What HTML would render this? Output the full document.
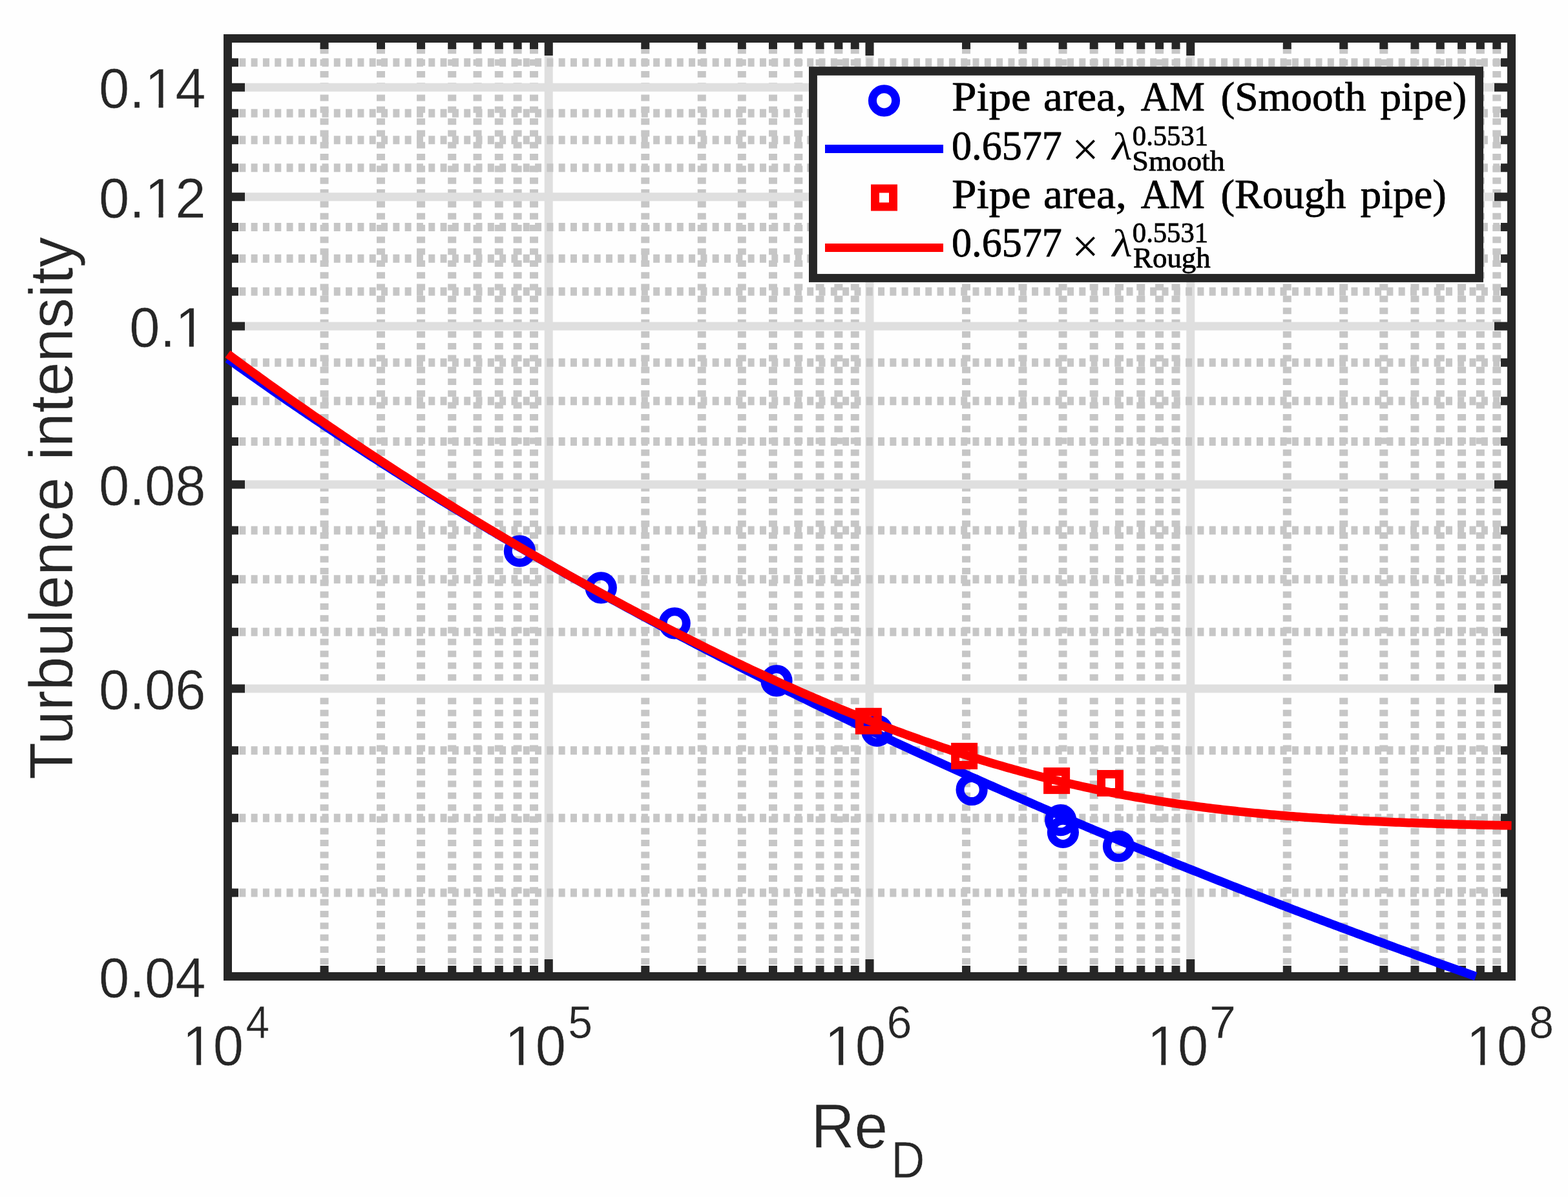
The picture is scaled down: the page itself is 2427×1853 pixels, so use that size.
<!DOCTYPE html>
<html lang="en"><head><meta charset="utf-8"><title>Turbulence intensity vs Re_D</title>
<style>html,body{margin:0;padding:0;background:#fefefe;}body{width:2427px;height:1853px;overflow:hidden;}svg{display:block;}</style>
</head><body>
<svg width="2427" height="1853" viewBox="0 0 2427 1853">
<rect width="2427" height="1853" fill="#fefefe"/>
<g stroke="#c6c6c6" stroke-width="13.0" stroke-dasharray="10 8.31" fill="none">
<path d="M502.04 1511.50V59.50"/>
<path d="M589.51 1511.50V59.50"/>
<path d="M651.57 1511.50V59.50"/>
<path d="M699.71 1511.50V59.50"/>
<path d="M739.05 1511.50V59.50"/>
<path d="M772.30 1511.50V59.50"/>
<path d="M801.11 1511.50V59.50"/>
<path d="M826.52 1511.50V59.50"/>
<path d="M998.79 1511.50V59.50"/>
<path d="M1086.26 1511.50V59.50"/>
<path d="M1148.32 1511.50V59.50"/>
<path d="M1196.46 1511.50V59.50"/>
<path d="M1235.80 1511.50V59.50"/>
<path d="M1269.05 1511.50V59.50"/>
<path d="M1297.86 1511.50V59.50"/>
<path d="M1323.27 1511.50V59.50"/>
<path d="M1495.54 1511.50V59.50"/>
<path d="M1583.01 1511.50V59.50"/>
<path d="M1645.07 1511.50V59.50"/>
<path d="M1693.21 1511.50V59.50"/>
<path d="M1732.55 1511.50V59.50"/>
<path d="M1765.80 1511.50V59.50"/>
<path d="M1794.61 1511.50V59.50"/>
<path d="M1820.02 1511.50V59.50"/>
<path d="M1992.29 1511.50V59.50"/>
<path d="M2079.76 1511.50V59.50"/>
<path d="M2141.82 1511.50V59.50"/>
<path d="M2189.96 1511.50V59.50"/>
<path d="M2229.30 1511.50V59.50"/>
<path d="M2262.55 1511.50V59.50"/>
<path d="M2291.36 1511.50V59.50"/>
<path d="M2316.77 1511.50V59.50"/>
</g>
<g stroke="#dfdfdf" stroke-width="13.0" fill="none">
<path d="M849.25 1511.50V59.50"/>
<path d="M1346.00 1511.50V59.50"/>
<path d="M1842.75 1511.50V59.50"/>
</g>
<g stroke="#c6c6c6" stroke-width="13.0" stroke-dasharray="10 8.31" fill="none">
<path d="M352.00 1382.11H2339.50"/>
<path d="M352.00 1266.37H2339.50"/>
<path d="M352.00 1161.67H2339.50"/>
<path d="M352.00 978.15H2339.50"/>
<path d="M352.00 896.74H2339.50"/>
<path d="M352.00 820.95H2339.50"/>
<path d="M352.00 683.45H2339.50"/>
<path d="M352.00 620.66H2339.50"/>
<path d="M352.00 561.27H2339.50"/>
<path d="M352.00 451.32H2339.50"/>
<path d="M352.00 400.22H2339.50"/>
<path d="M352.00 351.39H2339.50"/>
<path d="M352.00 259.79H2339.50"/>
<path d="M352.00 216.70H2339.50"/>
<path d="M352.00 175.24H2339.50"/>
<path d="M352.00 96.74H2339.50"/>
</g>
<g stroke="#dfdfdf" stroke-width="13.0" fill="none">
<path d="M352.50 1066.08H2339.50"/>
<path d="M352.50 750.05H2339.50"/>
<path d="M352.50 504.92H2339.50"/>
<path d="M352.50 304.63H2339.50"/>
<path d="M352.50 135.29H2339.50"/>
</g>
<g stroke="#262626" stroke-width="13.0" fill="none">
<path d="M502.04 66.00v10M502.04 1505.00v-10M589.51 66.00v10M589.51 1505.00v-10M651.57 66.00v10M651.57 1505.00v-10M699.71 66.00v10M699.71 1505.00v-10M739.05 66.00v10M739.05 1505.00v-10M772.30 66.00v10M772.30 1505.00v-10M801.11 66.00v10M801.11 1505.00v-10M826.52 66.00v10M826.52 1505.00v-10M998.79 66.00v10M998.79 1505.00v-10M1086.26 66.00v10M1086.26 1505.00v-10M1148.32 66.00v10M1148.32 1505.00v-10M1196.46 66.00v10M1196.46 1505.00v-10M1235.80 66.00v10M1235.80 1505.00v-10M1269.05 66.00v10M1269.05 1505.00v-10M1297.86 66.00v10M1297.86 1505.00v-10M1323.27 66.00v10M1323.27 1505.00v-10M1495.54 66.00v10M1495.54 1505.00v-10M1583.01 66.00v10M1583.01 1505.00v-10M1645.07 66.00v10M1645.07 1505.00v-10M1693.21 66.00v10M1693.21 1505.00v-10M1732.55 66.00v10M1732.55 1505.00v-10M1765.80 66.00v10M1765.80 1505.00v-10M1794.61 66.00v10M1794.61 1505.00v-10M1820.02 66.00v10M1820.02 1505.00v-10M1992.29 66.00v10M1992.29 1505.00v-10M2079.76 66.00v10M2079.76 1505.00v-10M2141.82 66.00v10M2141.82 1505.00v-10M2189.96 66.00v10M2189.96 1505.00v-10M2229.30 66.00v10M2229.30 1505.00v-10M2262.55 66.00v10M2262.55 1505.00v-10M2291.36 66.00v10M2291.36 1505.00v-10M2316.77 66.00v10M2316.77 1505.00v-10M849.25 66.00v20M849.25 1505.00v-20M1346.00 66.00v20M1346.00 1505.00v-20M1842.75 66.00v20M1842.75 1505.00v-20M359.00 1382.11h10M2333.00 1382.11h-10M359.00 1266.37h10M2333.00 1266.37h-10M359.00 1161.67h10M2333.00 1161.67h-10M359.00 978.15h10M2333.00 978.15h-10M359.00 896.74h10M2333.00 896.74h-10M359.00 820.95h10M2333.00 820.95h-10M359.00 683.45h10M2333.00 683.45h-10M359.00 620.66h10M2333.00 620.66h-10M359.00 561.27h10M2333.00 561.27h-10M359.00 451.32h10M2333.00 451.32h-10M359.00 400.22h10M2333.00 400.22h-10M359.00 351.39h10M2333.00 351.39h-10M359.00 259.79h10M2333.00 259.79h-10M359.00 216.70h10M2333.00 216.70h-10M359.00 175.24h10M2333.00 175.24h-10M359.00 96.74h10M2333.00 96.74h-10M359.00 1066.08h20M2333.00 1066.08h-20M359.00 750.05h20M2333.00 750.05h-20M359.00 504.92h20M2333.00 504.92h-20M359.00 304.63h20M2333.00 304.63h-20M359.00 135.29h20M2333.00 135.29h-20"/>
<rect x="352.5" y="59.5" width="1987.0" height="1452.0"/>
</g>
<g fill="none" stroke-width="13.0">
<circle cx="804.4" cy="853.2" r="18.1" stroke="#0000ff"/>
<circle cx="930.3" cy="909.8" r="18.1" stroke="#0000ff"/>
<circle cx="1044.2" cy="964.8" r="18.1" stroke="#0000ff"/>
<circle cx="1202" cy="1053.9" r="18.1" stroke="#0000ff"/>
<circle cx="1357.6" cy="1131.3" r="18.1" stroke="#0000ff"/>
<circle cx="1504.1" cy="1222.5" r="18.1" stroke="#0000ff"/>
<circle cx="1641.7" cy="1269.7" r="18.1" stroke="#0000ff"/>
<circle cx="1645.4" cy="1288.4" r="18.1" stroke="#0000ff"/>
<circle cx="1731.5" cy="1310" r="18.1" stroke="#0000ff"/>
<path d="M352.50 555.24L357.47 558.81L362.43 562.37L367.40 565.92L372.37 569.47L377.34 573.00L382.30 576.53L387.27 580.05L392.24 583.55L397.21 587.05L402.17 590.54L407.14 594.03L412.11 597.50L417.08 600.96L422.04 604.42L427.01 607.87L431.98 611.30L436.95 614.73L441.91 618.15L446.88 621.57L451.85 624.97L456.82 628.37L461.78 631.76L466.75 635.14L471.72 638.51L476.69 641.87L481.65 645.23L486.62 648.57L491.59 651.91L496.56 655.24L501.52 658.57L506.49 661.88L511.46 665.19L516.43 668.49L521.39 671.78L526.36 675.06L531.33 678.34L536.30 681.60L541.26 684.86L546.23 688.11L551.20 691.36L556.17 694.60L561.13 697.83L566.10 701.05L571.07 704.26L576.04 707.47L581.00 710.67L585.97 713.86L590.94 717.04L595.91 720.22L600.88 723.39L605.84 726.55L610.81 729.71L615.78 732.85L620.75 735.99L625.71 739.13L630.68 742.25L635.65 745.37L640.62 748.48L645.58 751.59L650.55 754.69L655.52 757.78L660.49 760.86L665.45 763.94L670.42 767.01L675.39 770.07L680.36 773.13L685.32 776.18L690.29 779.22L695.26 782.25L700.23 785.28L705.19 788.31L710.16 791.32L715.13 794.33L720.10 797.33L725.06 800.33L730.03 803.32L735.00 806.30L739.97 809.28L744.93 812.25L749.90 815.21L754.87 818.17L759.84 821.12L764.80 824.06L769.77 827.00L774.74 829.93L779.71 832.85L784.67 835.77L789.64 838.68L794.61 841.59L799.58 844.49L804.54 847.38L809.51 850.27L814.48 853.15L819.45 856.03L824.41 858.90L829.38 861.76L834.35 864.61L839.32 867.47L844.28 870.31L849.25 873.15L854.22 875.98L859.18 878.81L864.15 881.63L869.12 884.45L874.09 887.26L879.06 890.06L884.02 892.86L888.99 895.65L893.96 898.44L898.92 901.22L903.89 903.99L908.86 906.76L913.83 909.52L918.80 912.28L923.76 915.03L928.73 917.78L933.70 920.52L938.66 923.26L943.63 925.99L948.60 928.71L953.57 931.43L958.53 934.14L963.50 936.85L968.47 939.55L973.44 942.25L978.40 944.94L983.37 947.63L988.34 950.31L993.31 952.98L998.27 955.65L1003.24 958.32L1008.21 960.98L1013.18 963.63L1018.14 966.28L1023.11 968.93L1028.08 971.56L1033.05 974.20L1038.01 976.83L1042.98 979.45L1047.95 982.07L1052.92 984.68L1057.88 987.29L1062.85 989.89L1067.82 992.49L1072.79 995.08L1077.76 997.67L1082.72 1000.25L1087.69 1002.83L1092.66 1005.40L1097.62 1007.97L1102.59 1010.53L1107.56 1013.09L1112.53 1015.65L1117.49 1018.19L1122.46 1020.74L1127.43 1023.28L1132.40 1025.81L1137.37 1028.34L1142.33 1030.86L1147.30 1033.38L1152.27 1035.90L1157.24 1038.41L1162.20 1040.91L1167.17 1043.41L1172.14 1045.91L1177.11 1048.40L1182.07 1050.89L1187.04 1053.37L1192.01 1055.85L1196.98 1058.32L1201.94 1060.79L1206.91 1063.25L1211.88 1065.71L1216.85 1068.17L1221.81 1070.62L1226.78 1073.06L1231.75 1075.50L1236.72 1077.94L1241.68 1080.37L1246.65 1082.80L1251.62 1085.22L1256.59 1087.64L1261.55 1090.06L1266.52 1092.47L1271.49 1094.87L1276.46 1097.27L1281.42 1099.67L1286.39 1102.06L1291.36 1104.45L1296.33 1106.84L1301.29 1109.22L1306.26 1111.59L1311.23 1113.96L1316.19 1116.33L1321.16 1118.69L1326.13 1121.05L1331.10 1123.41L1336.07 1125.76L1341.03 1128.10L1346.00 1130.45L1350.97 1132.78L1355.93 1135.12L1360.90 1137.45L1365.87 1139.77L1370.84 1142.09L1375.81 1144.41L1380.77 1146.73L1385.74 1149.04L1390.71 1151.34L1395.67 1153.64L1400.64 1155.94L1405.61 1158.23L1410.58 1160.52L1415.55 1162.81L1420.51 1165.09L1425.48 1167.37L1430.45 1169.64L1435.41 1171.91L1440.38 1174.18L1445.35 1176.44L1450.32 1178.70L1455.29 1180.95L1460.25 1183.20L1465.22 1185.45L1470.19 1187.69L1475.15 1189.93L1480.12 1192.17L1485.09 1194.40L1490.06 1196.63L1495.03 1198.85L1499.99 1201.07L1504.96 1203.29L1509.93 1205.50L1514.89 1207.71L1519.86 1209.91L1524.83 1212.12L1529.80 1214.31L1534.76 1216.51L1539.73 1218.70L1544.70 1220.89L1549.67 1223.07L1554.63 1225.25L1559.60 1227.43L1564.57 1229.60L1569.54 1231.77L1574.50 1233.93L1579.47 1236.10L1584.44 1238.25L1589.41 1240.41L1594.38 1242.56L1599.34 1244.71L1604.31 1246.85L1609.28 1248.99L1614.25 1251.13L1619.21 1253.27L1624.18 1255.40L1629.15 1257.52L1634.12 1259.65L1639.08 1261.77L1644.05 1263.88L1649.02 1266.00L1653.99 1268.11L1658.95 1270.21L1663.92 1272.32L1668.89 1274.42L1673.86 1276.51L1678.82 1278.61L1683.79 1280.70L1688.76 1282.78L1693.73 1284.87L1698.69 1286.95L1703.66 1289.02L1708.63 1291.10L1713.60 1293.17L1718.56 1295.23L1723.53 1297.30L1728.50 1299.36L1733.47 1301.42L1738.43 1303.47L1743.40 1305.52L1748.37 1307.57L1753.34 1309.61L1758.30 1311.65L1763.27 1313.69L1768.24 1315.73L1773.20 1317.76L1778.17 1319.79L1783.14 1321.81L1788.11 1323.83L1793.08 1325.85L1798.04 1327.87L1803.01 1329.88L1807.98 1331.89L1812.94 1333.90L1817.91 1335.90L1822.88 1337.90L1827.85 1339.90L1832.82 1341.89L1837.78 1343.89L1842.75 1345.87L1847.72 1347.86L1852.68 1349.84L1857.65 1351.82L1862.62 1353.80L1867.59 1355.77L1872.56 1357.74L1877.52 1359.71L1882.49 1361.67L1887.46 1363.63L1892.42 1365.59L1897.39 1367.55L1902.36 1369.50L1907.33 1371.45L1912.30 1373.40L1917.26 1375.34L1922.23 1377.28L1927.20 1379.22L1932.16 1381.16L1937.13 1383.09L1942.10 1385.02L1947.07 1386.95L1952.04 1388.87L1957.00 1390.79L1961.97 1392.71L1966.94 1394.63L1971.90 1396.54L1976.87 1398.45L1981.84 1400.36L1986.81 1402.26L1991.78 1404.16L1996.74 1406.06L2001.71 1407.96L2006.68 1409.85L2011.64 1411.74L2016.61 1413.63L2021.58 1415.51L2026.55 1417.40L2031.51 1419.28L2036.48 1421.15L2041.45 1423.03L2046.42 1424.90L2051.39 1426.77L2056.35 1428.63L2061.32 1430.50L2066.29 1432.36L2071.26 1434.22L2076.22 1436.07L2081.19 1437.92L2086.16 1439.77L2091.12 1441.62L2096.09 1443.47L2101.06 1445.31L2106.03 1447.15L2110.99 1448.99L2115.96 1450.82L2120.93 1452.65L2125.90 1454.48L2130.86 1456.31L2135.83 1458.13L2140.80 1459.95L2145.77 1461.77L2150.74 1463.59L2155.70 1465.40L2160.67 1467.22L2165.64 1469.03L2170.61 1470.83L2175.57 1472.64L2180.54 1474.44L2185.51 1476.24L2190.48 1478.03L2195.44 1479.83L2200.41 1481.62L2205.38 1483.41L2210.35 1485.19L2215.31 1486.98L2220.28 1488.76L2225.25 1490.54L2230.22 1492.32L2235.18 1494.09L2240.15 1495.86L2245.12 1497.63L2250.09 1499.40L2255.05 1501.16L2260.02 1502.93L2264.99 1504.69L2269.95 1506.44L2274.92 1508.20L2279.89 1509.95L2284.28 1511.50" stroke="#0000ff" stroke-width="13.5"/>
<rect x="1330.3" y="1102.3" width="28.0" height="28.0" stroke="#ff0000"/>
<rect x="1478.6" y="1156.4" width="28.0" height="28.0" stroke="#ff0000"/>
<rect x="1621.6" y="1194.6" width="28.0" height="28.0" stroke="#ff0000"/>
<rect x="1704.5" y="1198.5" width="28.0" height="28.0" stroke="#ff0000"/>
<path d="M352.50 548.00L357.47 551.68L362.43 555.36L367.40 559.03L372.37 562.69L377.34 566.34L382.30 569.98L387.27 573.61L392.24 577.22L397.21 580.83L402.17 584.43L407.14 588.02L412.11 591.61L417.08 595.18L422.04 598.74L427.01 602.29L431.98 605.83L436.95 609.37L441.91 612.89L446.88 616.41L451.85 619.91L456.82 623.41L461.78 626.90L466.75 630.37L471.72 633.84L476.69 637.30L481.65 640.75L486.62 644.19L491.59 647.63L496.56 651.05L501.52 654.47L506.49 657.87L511.46 661.27L516.43 664.66L521.39 668.04L526.36 671.41L531.33 674.77L536.30 678.12L541.26 681.47L546.23 684.80L551.20 688.13L556.17 691.45L561.13 694.76L566.10 698.06L571.07 701.36L576.04 704.64L581.00 707.92L585.97 711.19L590.94 714.44L595.91 717.70L600.88 720.94L605.84 724.17L610.81 727.40L615.78 730.62L620.75 733.83L625.71 737.03L630.68 740.22L635.65 743.41L640.62 746.58L645.58 749.75L650.55 752.91L655.52 756.06L660.49 759.21L665.45 762.35L670.42 765.47L675.39 768.59L680.36 771.71L685.32 774.81L690.29 777.91L695.26 780.99L700.23 784.07L705.19 787.15L710.16 790.21L715.13 793.27L720.10 796.32L725.06 799.36L730.03 802.39L735.00 805.42L739.97 808.43L744.93 811.44L749.90 814.44L754.87 817.44L759.84 820.42L764.80 823.40L769.77 826.37L774.74 829.33L779.71 832.29L784.67 835.24L789.64 838.18L794.61 841.11L799.58 844.03L804.54 846.95L809.51 849.86L814.48 852.76L819.45 855.65L824.41 858.54L829.38 861.41L834.35 864.28L839.32 867.15L844.28 870.00L849.25 872.85L854.22 875.69L859.18 878.52L864.15 881.34L869.12 884.16L874.09 886.97L879.06 889.77L884.02 892.56L888.99 895.35L893.96 898.12L898.92 900.89L903.89 903.66L908.86 906.41L913.83 909.16L918.80 911.90L923.76 914.63L928.73 917.35L933.70 920.07L938.66 922.77L943.63 925.47L948.60 928.17L953.57 930.85L958.53 933.53L963.50 936.20L968.47 938.86L973.44 941.51L978.40 944.15L983.37 946.79L988.34 949.42L993.31 952.04L998.27 954.66L1003.24 957.26L1008.21 959.86L1013.18 962.45L1018.14 965.03L1023.11 967.60L1028.08 970.17L1033.05 972.72L1038.01 975.27L1042.98 977.81L1047.95 980.34L1052.92 982.87L1057.88 985.38L1062.85 987.89L1067.82 990.39L1072.79 992.88L1077.76 995.36L1082.72 997.84L1087.69 1000.30L1092.66 1002.76L1097.62 1005.21L1102.59 1007.65L1107.56 1010.08L1112.53 1012.50L1117.49 1014.92L1122.46 1017.32L1127.43 1019.72L1132.40 1022.11L1137.37 1024.48L1142.33 1026.85L1147.30 1029.21L1152.27 1031.57L1157.24 1033.91L1162.20 1036.24L1167.17 1038.57L1172.14 1040.88L1177.11 1043.19L1182.07 1045.49L1187.04 1047.78L1192.01 1050.05L1196.98 1052.32L1201.94 1054.58L1206.91 1056.83L1211.88 1059.07L1216.85 1061.30L1221.81 1063.52L1226.78 1065.74L1231.75 1067.94L1236.72 1070.13L1241.68 1072.31L1246.65 1074.48L1251.62 1076.64L1256.59 1078.80L1261.55 1080.94L1266.52 1083.07L1271.49 1085.19L1276.46 1087.30L1281.42 1089.40L1286.39 1091.49L1291.36 1093.57L1296.33 1095.64L1301.29 1097.70L1306.26 1099.74L1311.23 1101.78L1316.19 1103.81L1321.16 1105.82L1326.13 1107.83L1331.10 1109.82L1336.07 1111.80L1341.03 1113.77L1346.00 1115.73L1350.97 1117.68L1355.93 1119.61L1360.90 1121.54L1365.87 1123.45L1370.84 1125.35L1375.81 1127.24L1380.77 1129.12L1385.74 1130.99L1390.71 1132.84L1395.67 1134.69L1400.64 1136.52L1405.61 1138.34L1410.58 1140.14L1415.55 1141.94L1420.51 1143.72L1425.48 1145.49L1430.45 1147.25L1435.41 1148.99L1440.38 1150.72L1445.35 1152.44L1450.32 1154.15L1455.29 1155.85L1460.25 1157.53L1465.22 1159.20L1470.19 1160.85L1475.15 1162.50L1480.12 1164.13L1485.09 1165.75L1490.06 1167.35L1495.03 1168.94L1499.99 1170.52L1504.96 1172.09L1509.93 1173.64L1514.89 1175.18L1519.86 1176.70L1524.83 1178.21L1529.80 1179.71L1534.76 1181.20L1539.73 1182.67L1544.70 1184.13L1549.67 1185.57L1554.63 1187.00L1559.60 1188.42L1564.57 1189.82L1569.54 1191.21L1574.50 1192.59L1579.47 1193.95L1584.44 1195.30L1589.41 1196.64L1594.38 1197.96L1599.34 1199.27L1604.31 1200.56L1609.28 1201.84L1614.25 1203.11L1619.21 1204.36L1624.18 1205.60L1629.15 1206.83L1634.12 1208.04L1639.08 1209.24L1644.05 1210.43L1649.02 1211.60L1653.99 1212.76L1658.95 1213.90L1663.92 1215.03L1668.89 1216.15L1673.86 1217.25L1678.82 1218.34L1683.79 1219.42L1688.76 1220.48L1693.73 1221.53L1698.69 1222.57L1703.66 1223.59L1708.63 1224.60L1713.60 1225.60L1718.56 1226.58L1723.53 1227.55L1728.50 1228.51L1733.47 1229.46L1738.43 1230.39L1743.40 1231.31L1748.37 1232.22L1753.34 1233.11L1758.30 1233.99L1763.27 1234.86L1768.24 1235.72L1773.20 1236.56L1778.17 1237.39L1783.14 1238.21L1788.11 1239.02L1793.08 1239.82L1798.04 1240.60L1803.01 1241.37L1807.98 1242.13L1812.94 1242.88L1817.91 1243.62L1822.88 1244.35L1827.85 1245.06L1832.82 1245.76L1837.78 1246.46L1842.75 1247.14L1847.72 1247.81L1852.68 1248.47L1857.65 1249.12L1862.62 1249.75L1867.59 1250.38L1872.56 1251.00L1877.52 1251.61L1882.49 1252.20L1887.46 1252.79L1892.42 1253.37L1897.39 1253.93L1902.36 1254.49L1907.33 1255.04L1912.30 1255.58L1917.26 1256.11L1922.23 1256.63L1927.20 1257.14L1932.16 1257.64L1937.13 1258.13L1942.10 1258.61L1947.07 1259.09L1952.04 1259.56L1957.00 1260.01L1961.97 1260.46L1966.94 1260.91L1971.90 1261.34L1976.87 1261.76L1981.84 1262.18L1986.81 1262.59L1991.78 1262.99L1996.74 1263.39L2001.71 1263.78L2006.68 1264.16L2011.64 1264.53L2016.61 1264.90L2021.58 1265.25L2026.55 1265.61L2031.51 1265.95L2036.48 1266.29L2041.45 1266.62L2046.42 1266.95L2051.39 1267.27L2056.35 1267.58L2061.32 1267.89L2066.29 1268.19L2071.26 1268.48L2076.22 1268.77L2081.19 1269.06L2086.16 1269.33L2091.12 1269.61L2096.09 1269.87L2101.06 1270.13L2106.03 1270.39L2110.99 1270.64L2115.96 1270.89L2120.93 1271.13L2125.90 1271.36L2130.86 1271.60L2135.83 1271.82L2140.80 1272.04L2145.77 1272.26L2150.74 1272.47L2155.70 1272.68L2160.67 1272.89L2165.64 1273.09L2170.61 1273.28L2175.57 1273.47L2180.54 1273.66L2185.51 1273.85L2190.48 1274.03L2195.44 1274.20L2200.41 1274.37L2205.38 1274.54L2210.35 1274.71L2215.31 1274.87L2220.28 1275.03L2225.25 1275.18L2230.22 1275.34L2235.18 1275.48L2240.15 1275.63L2245.12 1275.77L2250.09 1275.91L2255.05 1276.05L2260.02 1276.18L2264.99 1276.31L2269.95 1276.44L2274.92 1276.56L2279.89 1276.69L2284.86 1276.81L2289.83 1276.92L2294.79 1277.04L2299.76 1277.15L2304.73 1277.26L2309.69 1277.37L2314.66 1277.47L2319.63 1277.58L2324.60 1277.68L2329.57 1277.77L2334.53 1277.87L2339.50 1277.96" stroke="#ff0000" stroke-width="13.5"/>
</g>
<rect x="1252" y="103.2" width="1044" height="333.7" fill="#262626"/>
<rect x="1264.9" y="116.8" width="1018.2" height="307.25" fill="#fefefe"/>
<circle cx="1368.5" cy="155.8" r="18.1" fill="none" stroke="#0000ff" stroke-width="13.0"/>
<path d="M1277 230.5H1460" stroke="#0000ff" stroke-width="13.0"/>
<rect x="1354.5" y="292.0" width="28.0" height="28.0" fill="none" stroke="#ff0000" stroke-width="13.0"/>
<path d="M1277 383.5H1460" stroke="#ff0000" stroke-width="13.0"/>
<g style="font-family:'Liberation Serif',serif" fill="#000">
<text transform="matrix(1.0919 0 0.0000 1.0000 1473.34 171.00)" font-size="63" stroke="#000" stroke-width="0.8">Pipe</text>
<text transform="matrix(1.0672 0 0.0000 1.0000 1615.05 171.00)" font-size="63" stroke="#000" stroke-width="0.8">area,</text>
<text transform="matrix(0.9751 0 0.0000 1.0000 1765.79 171.00)" font-size="63" stroke="#000" stroke-width="0.8">AM</text>
<text transform="matrix(1.0365 0 0.0000 1.0000 1889.46 171.00)" font-size="63" stroke="#000" stroke-width="0.8">(Smooth</text>
<text transform="matrix(1.0327 0 0.0000 1.0000 2136.42 171.00)" font-size="63" stroke="#000" stroke-width="0.8">pipe)</text>
<text transform="matrix(1.0919 0 0.0000 1.0000 1473.34 321.60)" font-size="63" stroke="#000" stroke-width="0.8">Pipe</text>
<text transform="matrix(1.0672 0 0.0000 1.0000 1615.05 321.60)" font-size="63" stroke="#000" stroke-width="0.8">area,</text>
<text transform="matrix(0.9751 0 0.0000 1.0000 1765.79 321.60)" font-size="63" stroke="#000" stroke-width="0.8">AM</text>
<text transform="matrix(1.0260 0 0.0000 1.0000 1889.49 321.60)" font-size="63" stroke="#000" stroke-width="0.8">(Rough</text>
<text transform="matrix(1.0280 0 0.0000 1.0000 2105.83 321.60)" font-size="63" stroke="#000" stroke-width="0.8">pipe)</text>
<text transform="matrix(0.9858 0 0.0000 1.0000 1473.07 246.70)" font-size="63" stroke="#000" stroke-width="0.8">0.6577</text>
<text transform="matrix(1.0010 0 0.0000 1.0010 1659.07 255.63)" font-size="74">×</text>
<text transform="matrix(1.1342 0 -0.1100 1.0004 1718.12 246.70)" font-size="60.4">λ</text>
<text transform="matrix(0.9590 0 0.0000 1.0000 1752.80 225.10)" font-size="44.5" stroke="#000" stroke-width="0.8">0.5531</text>
<text transform="matrix(1.0368 0 0.0000 1.0000 1752.29 263.60)" font-size="44.5" stroke="#000" stroke-width="0.8">Smooth</text>
<text transform="matrix(0.9858 0 0.0000 1.0000 1473.07 397.00)" font-size="63" stroke="#000" stroke-width="0.8">0.6577</text>
<text transform="matrix(1.0010 0 0.0000 1.0010 1659.07 405.93)" font-size="74">×</text>
<text transform="matrix(1.1342 0 -0.1100 1.0004 1718.12 397.00)" font-size="60.4">λ</text>
<text transform="matrix(0.9590 0 0.0000 1.0000 1752.80 375.40)" font-size="44.5" stroke="#000" stroke-width="0.8">0.5531</text>
<text transform="matrix(1.0085 0 0.0000 1.0000 1754.05 413.90)" font-size="44.5" stroke="#000" stroke-width="0.8">Rough</text>
</g>
<g style="font-family:'Liberation Sans',sans-serif" fill="#262626" stroke="#fefefe" stroke-width="0.5">
<text transform="matrix(0.9812 0 0.0000 1.0400 380.52 1606.90)" font-size="67">4</text>
<text transform="matrix(1.0149 0 0.0000 1.0400 879.18 1606.90)" font-size="67">5</text>
<text transform="matrix(1.0456 0 0.0000 1.0400 1372.40 1606.90)" font-size="67">6</text>
<text transform="matrix(1.0984 0 0.0000 1.0400 1872.04 1606.90)" font-size="67">7</text>
<text transform="matrix(1.0289 0 0.0000 1.0400 2366.87 1606.90)" font-size="67">8</text>
<text transform="matrix(0.9974 0 0.0000 1.0450 1255.45 1776.80)" font-size="93">Re</text>
<text transform="matrix(0.9505 0 0.0000 1.0450 1379.24 1822.80)" font-size="76">D</text>
<text transform="matrix(1 0 0 1.03 318.5 167.29)" font-size="85" text-anchor="end">0.14</text>
<text transform="matrix(1 0 0 1.03 318.5 336.63)" font-size="85" text-anchor="end">0.12</text>
<text transform="matrix(1 0 0 1.03 318.5 536.92)" font-size="85" text-anchor="end">0.1</text>
<text transform="matrix(1 0 0 1.03 318.5 782.05)" font-size="85" text-anchor="end">0.08</text>
<text transform="matrix(1 0 0 1.03 318.5 1098.08)" font-size="85" text-anchor="end">0.06</text>
<text transform="matrix(1 0 0 1.03 318.5 1543.50)" font-size="85" text-anchor="end">0.04</text>
<text transform="matrix(1 0 0 1.03 282.5 1648.9)" font-size="85">10</text>
<text transform="matrix(1 0 0 1.03 781.6 1648.9)" font-size="85">10</text>
<text transform="matrix(1 0 0 1.03 1276.6 1648.9)" font-size="85">10</text>
<text transform="matrix(1 0 0 1.03 1775.7 1648.9)" font-size="85">10</text>
<text transform="matrix(1 0 0 1.03 2269.7 1648.9)" font-size="85">10</text>
<path d="M229.05 160.11h16.26v10.18h-16.26zM252.85 160.11h15.30v10.18h-15.30zM229.05 329.45h16.26v10.18h-16.26zM252.85 329.45h15.30v10.18h-15.30zM276.32 529.74h16.26v10.18h-16.26zM300.12 529.74h15.30v10.18h-15.30zM287.60 1641.72h16.26v10.18h-16.26zM311.40 1641.72h15.30v10.18h-15.30zM786.70 1641.72h16.26v10.18h-16.26zM810.50 1641.72h15.30v10.18h-15.30zM1281.70 1641.72h16.26v10.18h-16.26zM1305.50 1641.72h15.30v10.18h-15.30zM1780.80 1641.72h16.26v10.18h-16.26zM1804.60 1641.72h15.30v10.18h-15.30zM2274.80 1641.72h16.26v10.18h-16.26zM2298.60 1641.72h15.30v10.18h-15.30z" fill="#fefefe"/>
<text transform="translate(112 1206.87) rotate(-90) scale(1.0029 1.0000)" font-size="94">Turbulence intensity</text>
</g>
</svg>
</body></html>
